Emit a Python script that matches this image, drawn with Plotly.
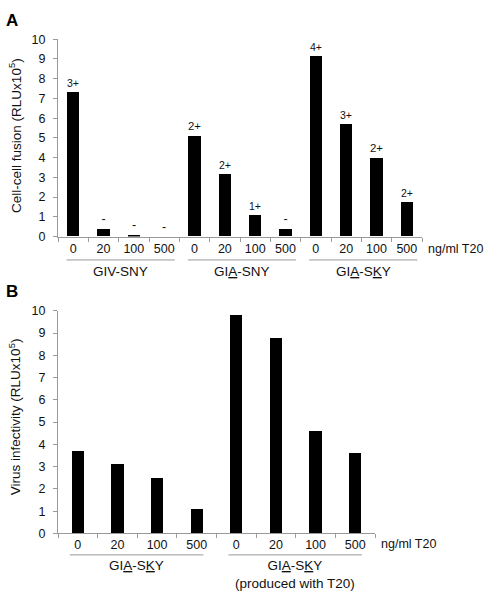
import plotly.graph_objects as go

W, H = 487, 599

# ---------- data ----------
conc_A = ["0", "20", "100", "500", "0", "20", "100", "500", "0", "20", "100", "500"]
group_A = ["GIV-SNY"] * 4 + ["GIA-SNY"] * 4 + ["GIA-SKY"] * 4
fusion = [7.3, 0.37, 0.06, 0.0, 5.08, 3.17, 1.06, 0.38, 9.15, 5.7, 3.95, 1.72]
fusion_labels = ["3+", "-", "-", "-", "2+", "2+", "1+", "-", "4+", "3+", "2+", "2+"]
groups_A_display = ["GIV-SNY", "GI<u>A</u>-SNY", "GI<u>A</u>-S<u>K</u>Y"]

conc_B = ["0", "20", "100", "500", "0", "20", "100", "500"]
group_B = ["GIA-SKY"] * 4 + ["GIA-SKY (T20)"] * 4
infectivity = [3.7, 3.11, 2.51, 1.11, 9.82, 8.79, 4.6, 3.64]
groups_B_display = ["GI<u>A</u>-S<u>K</u>Y", "GI<u>A</u>-S<u>K</u>Y<br>(produced with T20)"]

unit_label = "ng/ml T20"
ytitle_A = "Cell-cell fusion (RLUx10<sup>5</sup>)"
ytitle_B = "Virus infectivity (RLUx10<sup>5</sup>)"

FONT = "Arial, Liberation Sans, sans-serif"
GRAY = "#9a9a9a"
TXT = "#111111"

keys_A = [f"{g}|{c}|{i}" for i, (g, c) in enumerate(zip(group_A, conc_A))]
keys_B = [f"{g}|{c}|{i}" for i, (g, c) in enumerate(zip(group_B, conc_B))]

fig = go.Figure()
fig.add_trace(go.Bar(
    x=keys_A, y=fusion, text=fusion_labels, textposition="outside",
    textfont=dict(size=12.5, color=TXT, family=FONT), cliponaxis=False,
    marker=dict(color="black", line=dict(width=0)), width=0.4,
    xaxis="x", yaxis="y", showlegend=False))
fig.add_trace(go.Bar(
    x=keys_B, y=infectivity,
    marker=dict(color="black", line=dict(width=0)), width=0.31,
    xaxis="x2", yaxis="y2", showlegend=False))

def px_x(p):
    return p / W

def px_y(p):
    return 1 - p / H

common_x = dict(type="category", tickson="boundaries", ticks="outside", ticklen=4,
                tickcolor=GRAY, showline=True, linecolor=GRAY, linewidth=1,
                showgrid=False, zeroline=False,
                tickfont=dict(size=12.5, color=TXT, family=FONT))
common_y = dict(range=[0, 10], dtick=1, ticks="outside", ticklen=4, tickcolor=GRAY,
                showline=True, linecolor=GRAY, linewidth=1, showgrid=False,
                zeroline=False, ticklabelstandoff=5,
                tickfont=dict(size=12.5, color=TXT, family=FONT))

fig.update_layout(
    width=W, height=H, margin=dict(l=0, r=0, t=0, b=0),
    paper_bgcolor="white", plot_bgcolor="white", bargap=0,
    font=dict(family=FONT, color=TXT),
    xaxis=dict(common_x, domain=[px_x(58), px_x(422)], anchor="y",
               tickvals=keys_A, ticktext=conc_A, range=[-0.5, 11.5]),
    yaxis=dict(common_y, domain=[px_y(235), px_y(33)], anchor="x"),
    xaxis2=dict(common_x, domain=[px_x(58), px_x(375)], anchor="y2",
                tickvals=keys_B, ticktext=conc_B, range=[-0.5, 7.5]),
    yaxis2=dict(common_y, domain=[px_y(539), px_y(311)], anchor="x2"),
)

shapes = []
annotations = []

# Panel A group underlines and labels
for gi, name in enumerate(groups_A_display):
    s, e = gi * 4, gi * 4 + 3
    shapes.append(dict(type="line", xref="x", yref="paper", x0=s - 0.22, x1=e + 0.35,
                       y0=px_y(259), y1=px_y(259), line=dict(color=GRAY, width=1)))
    annotations.append(dict(text=name, xref="x", yref="paper", x=s + 1.5 + 0.06, y=px_y(271),
                            showarrow=False, xanchor="center", yanchor="middle",
                            font=dict(size=13.5, color=TXT, family=FONT)))

# Panel B group underlines and labels
for gi, name in enumerate(groups_B_display):
    s, e = gi * 4, gi * 4 + 3
    shapes.append(dict(type="line", xref="x2", yref="paper", x0=s - 0.2, x1=e + 0.17,
                       y0=px_y(561), y1=px_y(561), line=dict(color=GRAY, width=1)))
    annotations.append(dict(text=name, xref="x2", yref="paper", x=s + 1.5 - 0.02,
                            y=px_y(562), showarrow=False, xanchor="center", yanchor="top",
                            font=dict(size=13.5, color=TXT, family=FONT)))

# unit labels
annotations.append(dict(text=unit_label, xref="paper", yref="paper", x=px_x(426), y=px_y(248),
                        showarrow=False, xanchor="left", yanchor="middle",
                        font=dict(size=12.5, color=TXT, family=FONT)))
annotations.append(dict(text=unit_label, xref="paper", yref="paper", x=px_x(379), y=px_y(550),
                        showarrow=False, xanchor="left", yanchor="middle",
                        font=dict(size=12.5, color=TXT, family=FONT)))

# y titles
annotations.append(dict(text=ytitle_A, xref="paper", yref="paper", x=px_x(15), y=px_y(132),
                        showarrow=False, textangle=-90, xanchor="center", yanchor="middle",
                        font=dict(size=13.5, color=TXT, family=FONT)))
annotations.append(dict(text=ytitle_B, xref="paper", yref="paper", x=px_x(15), y=px_y(420),
                        showarrow=False, textangle=-90, xanchor="center", yanchor="middle",
                        font=dict(size=13.5, color=TXT, family=FONT)))

# panel letters
annotations.append(dict(text="<b>A</b>", xref="paper", yref="paper", x=px_x(12), y=px_y(14),
                        showarrow=False, xanchor="center", yanchor="middle",
                        font=dict(size=17, color="black", family=FONT)))
annotations.append(dict(text="<b>B</b>", xref="paper", yref="paper", x=px_x(12), y=px_y(291),
                        showarrow=False, xanchor="center", yanchor="middle",
                        font=dict(size=17, color="black", family=FONT)))

fig.update_layout(shapes=shapes, annotations=annotations)
fig.write_html("out.html", config={"displayModeBar": False},
               post_script="document.body.style.margin='0';document.body.style.overflow='hidden';")
